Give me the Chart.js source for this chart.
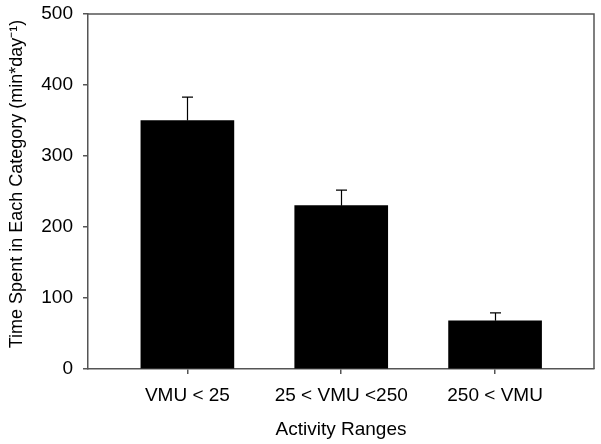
<!DOCTYPE html>
<html>
<head>
<meta charset="utf-8">
<script src="https://cdn.jsdelivr.net/npm/chart.js@4.4.1/dist/chart.umd.min.js"></script>
<style>
  html, body { margin: 0; padding: 0; background: #fff; }
  #wrap { width: 601px; height: 444px; position: relative; }
</style>
</head>
<body>
<div id="wrap"><canvas id="c" width="601" height="444"></canvas></div>
<script>
const categories = ["VMU < 25", "25 < VMU <250", "250 < VMU"];
const timeSpent = [350, 230, 68];
const errorUpper = [383, 252, 79];
const yTicks = [0, 100, 200, 300, 400, 500];

const FONT = "'Liberation Sans', Arial, sans-serif";
const AXIS_COLOR = '#555555';

const errorBarPlugin = {
  id: 'errorBars',
  afterDatasetsDraw(chart) {
    const ctx = chart.ctx;
    const xs = chart.scales.x, ys = chart.scales.y;
    ctx.save();
    ctx.strokeStyle = '#000';
    ctx.lineWidth = 1.2;
    categories.forEach((c, i) => {
      const x = Math.round(xs.getPixelForValue(i)) + 0.5;
      const y0 = ys.getPixelForValue(timeSpent[i]);
      const y1 = ys.getPixelForValue(errorUpper[i]);
      ctx.beginPath();
      ctx.moveTo(x, y0);
      ctx.lineTo(x, y1);
      ctx.moveTo(x - 5.5, y1);
      ctx.lineTo(x + 5.5, y1);
      ctx.stroke();
    });
    ctx.restore();
  }
};

const frameBoxPlugin = {
  id: 'frameBox',
  afterDraw(chart) {
    const a = chart.chartArea, ctx = chart.ctx;
    ctx.save();
    ctx.strokeStyle = AXIS_COLOR;
    ctx.lineWidth = 1.5;
    ctx.beginPath();
    ctx.moveTo(a.left, a.top);
    ctx.lineTo(a.right, a.top);
    ctx.lineTo(a.right, a.bottom);
    ctx.stroke();
    ctx.restore();
  }
};

new Chart(document.getElementById('c'), {
  type: 'bar',
  data: {
    datasets: [{
      data: timeSpent.map((v, i) => ({ x: i, y: v })),
      backgroundColor: '#000000',
      borderWidth: 0,
      barThickness: 93
    }]
  },
  options: {
    responsive: false,
    animation: false,
    layout: { padding: { left: 0, right: 7, top: 14, bottom: 0 } },
    plugins: { legend: { display: false }, tooltip: { enabled: false } },
    scales: {
      x: {
        type: 'linear',
        offset: false,
        min: -0.646,
        max: 2.643,
        afterBuildTicks: (s) => { s.ticks = categories.map((c, i) => ({ value: i })); },
        afterFit: (s) => { s.height = 75; s.paddingLeft = 0; s.paddingRight = 0; },
        ticks: {
          callback: (v) => categories[v],
          color: '#000',
          font: { family: FONT, size: 19 },
          padding: 10,
          maxRotation: 0,
          autoSkip: false
        },
        grid: { offset: false, drawOnChartArea: false, drawTicks: true, tickLength: 5, color: AXIS_COLOR, lineWidth: 1.5 },
        border: { display: true, color: AXIS_COLOR, width: 1.5 },
        title: {
          display: true,
          text: 'Activity Ranges',
          color: '#000',
          font: { family: FONT, size: 19 },
          padding: { top: 0, bottom: 3 }
        }
      },
      y: {
        min: 0,
        max: 500,
        afterBuildTicks: (s) => { s.ticks = yTicks.map(v => ({ value: v })); },
        afterFit: (s) => { s.width = 88; s.paddingTop = 0; s.paddingBottom = 0; },
        ticks: {
          color: '#000',
          font: { family: FONT, size: 19 },
          padding: 10
        },
        grid: { drawOnChartArea: false, drawTicks: true, tickLength: 5, color: AXIS_COLOR, lineWidth: 1.5 },
        border: { display: true, color: AXIS_COLOR, width: 1.5 },
        title: {
          display: true,
          text: '   Time Spent in Each Category (min*day\u207B\u00B9)',
          color: '#000',
          font: { family: FONT, size: 18 },
          padding: { top: 6, bottom: 0 }
        }
      }
    }
  },
  plugins: [errorBarPlugin, frameBoxPlugin]
});
</script>
</body>
</html>
